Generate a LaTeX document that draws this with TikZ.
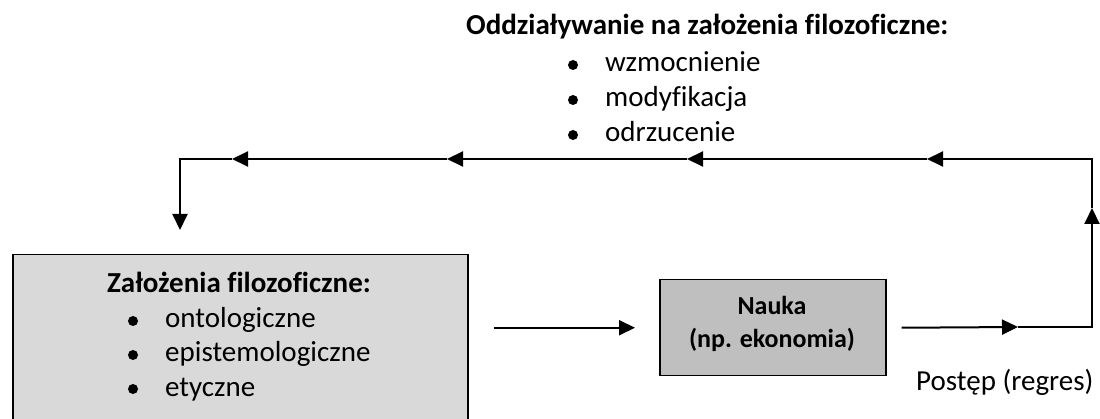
\documentclass[tikz,border=0pt]{standalone}
\usepackage{fontspec}
\setmainfont[Ligatures=NoCommon]{Carlito}
\usetikzlibrary{arrows.meta}
\definecolor{boxA}{HTML}{D9D9D9}
\definecolor{boxB}{HTML}{BFBFBF}
\begin{document}
\begin{tikzpicture}[x=1pt,y=-1pt,
  conn/.style={line width=2pt},
  arr/.style={conn,-{Triangle[length=16pt,width=15pt]}},
  bigbox/.style={draw,line width=1.5pt,fill=boxA,inner sep=0,anchor=north west},
  nbox/.style={draw,line width=1.5pt,fill=boxB,inner sep=0,anchor=north west},
  txt/.style={inner sep=0,font=\fontsize{29}{35}\selectfont,anchor=base west},
  ttl/.style={inner sep=0,font=\bfseries\fontsize{29}{35}\selectfont,anchor=base},
  ntxt/.style={inner sep=0,font=\bfseries\fontsize{26}{33}\selectfont,anchor=base},
  bul/.style={circle,fill,inner sep=0,minimum size=10pt}]
\clip (0,0) rectangle (1100,419);
% top block
\node[ttl,anchor=base west] (otitle) at (466,35) {Oddziaływanie na założenia filozoficzne:};
\node[bul] (ob1) at (573,65) {};
\node[txt] (o1) at (605,72) {wzmocnienie};
\node[bul] (ob2) at (573,100) {};
\node[txt] (o2) at (605,107) {modyfikacja};
\node[bul] (ob3) at (573,135) {};
\node[txt] (o3) at (605,142) {odrzucenie};
% big box
\node[bigbox,minimum width=455pt,minimum height=171pt] (zbox) at (12,254) {};
\node[ttl] (ztitle) at (239,293) {Założenia filozoficzne:};
\node[bul] (zb1) at (133,321) {};
\node[txt] (z1) at (165,328) {ontologiczne};
\node[bul] (zb2) at (133,355) {};
\node[txt] (z2) at (165,362) {epistemologiczne};
\node[bul] (zb3) at (133,389) {};
\node[txt] (z3) at (165,396) {etyczne};
% nauka box
\node[nbox,minimum width=226pt,minimum height=96pt] (nauka) at (659,279) {};
\node[ntxt] (n1) at (772,315) {Nauka};
\node[ntxt] (n2) at (772,348) {(np. ekonomia)};
\node[txt] (post) at (916,391) {Postęp (regres)};
% coordinates
\coordinate (p) at (1018,327);
\coordinate (rb) at (1092,327);
\coordinate (up) at (1092,208);
\coordinate (rt) at (1092,159);
\coordinate (m4) at (927,159);
\coordinate (m3) at (687,159);
\coordinate (m2) at (447,159);
\coordinate (m1) at (232,159);
\coordinate (lt) at (180,159);
\coordinate (dn) at (180,230);
% connectors
\draw[arr] ([xshift=25pt]zbox.east |- nauka.west) -- ([xshift=-24pt]nauka.west);
\draw[arr] ([xshift=15pt]nauka.east) -- (p);
\draw[arr] (p) -- (rb) -- (up);
\draw[arr] (up) -- (rt) -- (m4);
\draw[arr] (m4) -- (m3);
\draw[arr] (m3) -- (m2);
\draw[arr] (m2) -- (m1);
\draw[arr] (m1) -- (lt) -- (dn);
\end{tikzpicture}
\end{document}
